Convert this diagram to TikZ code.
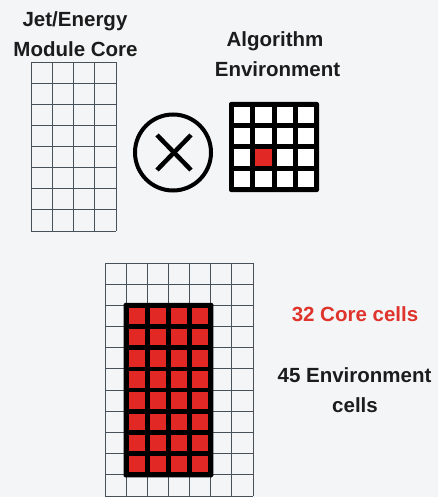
\documentclass[tikz,border=0pt]{standalone}
\usepackage{fontspec}
\setmainfont{Liberation Sans}
\definecolor{bg}{RGB}{244,245,247}
\definecolor{gridc}{RGB}{72,80,90}
\definecolor{cellred}{RGB}{226,40,36}
\definecolor{txtred}{RGB}{222,52,44}
\definecolor{txt}{RGB}{28,28,28}
\begin{document}
\begin{tikzpicture}[x=1pt,y=-1pt,
  lbl/.style={font=\fontsize{20.5}{24}\selectfont\bfseries, text=txt, inner sep=0pt, anchor=base},
  thingrid/.style={draw=gridc, line width=0.9pt},
  thick black/.style={fill=black}]
\fill[bg] (0,0) rectangle (438,497);
\useasboundingbox (0,0) rectangle (438,497);

% labels
\node[lbl] (jet) at (75,27) {Jet/Energy};
\node[lbl] (mod) at (75.5,57) {Module Core};
\node[lbl] (alg) at (275,47) {Algorithm};
\node[lbl] (env) at (277.5,77) {Environment};
\node[lbl, text=txtred] (core) at (355,321) {32 Core cells};
\node[lbl] (env2) at (354.5,382) {45 Environment};
\node[lbl] (cells) at (355,412) {cells};

% top-left core grid 4x8
\foreach \i in {0,...,4} \draw[thingrid] (31+\i*21.25,62) -- (31+\i*21.25,231);
\foreach \j in {0,...,8} \draw[thingrid] (31,62+\j*21.125) -- (116,62+\j*21.125);

% otimes symbol
\draw[black, line width=4pt] (173,152.5) circle[radius=38];
\draw[black, line width=4.5pt] (157,135) -- (191,170);
\draw[black, line width=4.5pt] (191,135) -- (157,170);

% algorithm environment 4x4
\fill[black, rounded corners=2pt] (229,102) rectangle (319,192);
\foreach \i in {0,...,3} \foreach \j in {0,...,3}
  \fill[white] (234+\i*21.25,107+\j*21.25) rectangle ++(16.25,16.25);
\fill[cellred] (234+1*21.25,107+2*21.25) rectangle ++(16.25,16.25);

% bottom grid 7x11
\foreach \i in {0,...,7} \draw[thingrid] (105+\i*21.143,263) -- (105+\i*21.143,496);
\foreach \j in {0,...,11} \draw[thingrid] (105,263+\j*21.18) -- (253,263+\j*21.18);

% red core block 4x8 inside
\fill[black, rounded corners=1.5pt] (105+21.143-2.6,263+2*21.18-2.6) rectangle (105+5*21.143+2.6,263+10*21.18+2.6);
\foreach \i in {1,...,4} \foreach \j in {2,...,9}
  \fill[cellred] (105+\i*21.143+2.4,263+\j*21.18+2.4) rectangle ++(16.3,16.4);
\end{tikzpicture}
\end{document}
